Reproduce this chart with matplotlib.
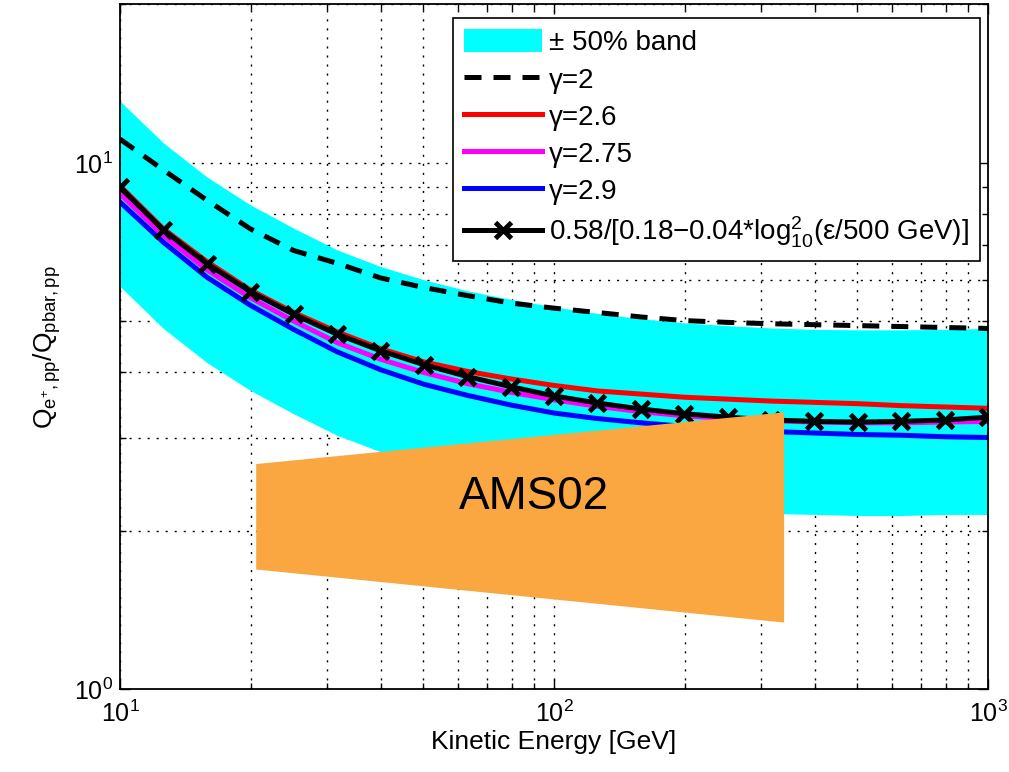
import matplotlib
matplotlib.use("Agg")
import matplotlib.pyplot as plt
from matplotlib.ticker import NullFormatter

plt.rcParams["font.family"] = ["Liberation Sans", "DejaVu Sans"]
plt.rcParams["mathtext.fontset"] = "custom"
plt.rcParams["mathtext.rm"] = "Liberation Sans"
plt.rcParams["mathtext.it"] = "Liberation Sans"

# energias (GeV), 21 puntos por decada/10
energia = [10.0, 12.59, 15.85, 19.95, 25.12, 31.62, 39.81, 50.12, 63.10, 79.43,
           100.0, 125.9, 158.5, 199.5, 251.2, 316.2, 398.1, 501.2, 631.0, 794.3, 1000.0]

# valores
gamma_2 = [11.1, 9.7, 8.5, 7.5, 6.82, 6.45, 6.05, 5.8, 5.6, 5.42,
           5.3, 5.2, 5.1, 5.02, 4.98, 4.95, 4.93, 4.91, 4.89, 4.87, 4.85]
gamma_26 = [9.05, 7.5, 6.5, 5.74, 5.2, 4.78, 4.44, 4.19, 4.02, 3.89,
            3.78, 3.69, 3.64, 3.59, 3.56, 3.53, 3.51, 3.49, 3.46, 3.44, 3.42]
gamma_275 = [8.74, 7.28, 6.27, 5.55, 5.01, 4.56, 4.24, 4.00, 3.81, 3.67,
             3.55, 3.45, 3.37, 3.31, 3.27, 3.24, 3.22, 3.21, 3.21, 3.22, 3.23]
gamma_29 = [8.43, 7.07, 6.07, 5.37, 4.83, 4.38, 4.05, 3.80, 3.62, 3.47,
            3.35, 3.27, 3.21, 3.16, 3.12, 3.09, 3.07, 3.05, 3.04, 3.02, 3.01]
ajuste = [8.99, 7.46, 6.44, 5.70, 5.16, 4.73, 4.40, 4.14, 3.93, 3.76,
          3.61, 3.50, 3.41, 3.34, 3.29, 3.25, 3.23, 3.22, 3.23, 3.25, 3.29]
banda_sup = [13.11, 10.92, 9.41, 8.33, 7.52, 6.84, 6.36, 6.00, 5.72, 5.51,
             5.33, 5.18, 5.06, 4.97, 4.91, 4.86, 4.83, 4.82, 4.82, 4.83, 4.85]
banda_inf = [5.83, 4.85, 4.18, 3.70, 3.34, 3.04, 2.83, 2.67, 2.54, 2.45,
             2.37, 2.30, 2.25, 2.21, 2.18, 2.16, 2.15, 2.14, 2.14, 2.15, 2.15]

# region AMS02
ams_x = [20.6, 339, 339, 20.6]
ams_y = [2.68, 3.36, 1.34, 1.69]

fig = plt.figure(figsize=(10.09, 7.72), dpi=100)
ax = fig.add_axes([0.1189, 0.1069, 0.8603, 0.8873])
ax.set_xscale("log")
ax.set_yscale("log")

banda = ax.fill_between(energia, banda_inf, banda_sup, color="#00ffff", lw=0,
                        zorder=1, label="\u00b1 50% band")
l2, = ax.plot(energia, gamma_2, color="k", lw=3.6, ls=(0, (3.4, 2.4)),
              zorder=3, label="\u03b3=2")
l26, = ax.plot(energia, gamma_26, color="#ff0000", lw=3.6, zorder=2, label="\u03b3=2.6")
l275, = ax.plot(energia, gamma_275, color="#ff00ff", lw=3.6, zorder=2, label="\u03b3=2.75")
l29, = ax.plot(energia, gamma_29, color="#0000ff", lw=3.6, zorder=2, label="\u03b3=2.9")
lfit, = ax.plot(energia, ajuste, color="k", lw=3.6, marker="x", ms=11, mew=3.5,
                zorder=3,
                label="0.58/[0.18\u22120.04*log$\\mathregular{^{2}_{10}}$(\u03b5/500 GeV)]")

ax.fill(ams_x, ams_y, color="#faa742", lw=0, zorder=4)
ax.text(89.9, 2.32, "AMS02", fontsize=33, ha="center", va="center", zorder=5)

ax.set_xlim(10, 1000)
ax.set_ylim(1, 20)
ax.xaxis.set_minor_formatter(NullFormatter())
ax.yaxis.set_minor_formatter(NullFormatter())

ax.grid(True, which="both", color="k", ls=(0, (1.5, 5)), lw=1.0)
ax.set_axisbelow(True)
ax.tick_params(which="both", direction="in", top=True, right=True, labelsize=18, width=1)
ax.tick_params(which="major", length=7)
ax.tick_params(which="minor", length=4)
ax.tick_params(axis="x", pad=8)
ax.tick_params(axis="y", pad=5)
for s in ax.spines.values():
    s.set_linewidth(1.3)

ax.set_xlabel("Kinetic Energy [GeV]", fontsize=19, labelpad=2)
ax.set_ylabel(r"$\mathregular{Q_{e^{+},pp}/Q_{pbar,pp}}$", fontsize=19, labelpad=8)

leg = ax.legend(handles=[banda, l2, l26, l275, l29, lfit], loc="upper right",
                bbox_to_anchor=(0.991, 0.980), borderaxespad=0, fontsize=20,
                frameon=True, fancybox=False, edgecolor="k", framealpha=1,
                handlelength=2.8, handletextpad=0.25, handleheight=0.9,
                labelspacing=0.36, numpoints=1, borderpad=0.4)
leg.get_frame().set_linewidth(1.2)
leg.set_zorder(10)

fig.savefig("out.png", dpi=100)
